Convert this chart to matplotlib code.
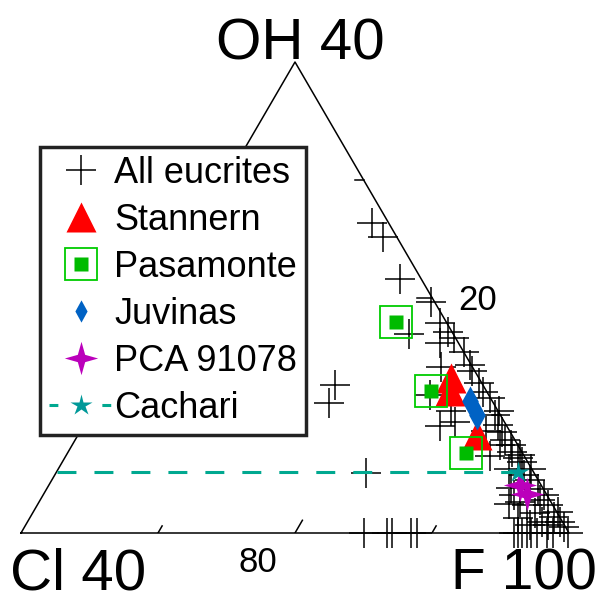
import numpy as np
import matplotlib.pyplot as plt
from matplotlib.lines import Line2D

plt.rcParams['font.family'] = ['Liberation Sans', 'DejaVu Sans']

# compositions on the scaled triangle (F 60-100, OH 0-40, Cl 0-40), Cl = 100 - F - OH
euc_F = [72.5, 73.9, 76.9, 80.1, 79.9, 81.7, 82.6, 83.3, 82.5, 76.6, 77.0, 82.6,
         83.6, 84.0, 86.0, 85.6, 87.1, 87.7, 86.0, 86.2, 87.0, 89.6, 90.2, 90.8,
         91.4, 89.7, 92.0, 92.4, 93.1, 93.6, 91.0, 94.9, 95.9, 96.6, 95.1, 95.7,
         97.3, 96.7, 98.2, 95.6, 97.6, 98.9, 99.4, 85.0, 86.7, 87.1, 88.5, 88.9,
         96.0, 96.3, 96.6, 96.9, 97.2, 97.7, 98.4, 98.8, 99.9, 94.5, 94.3, 93.9,
         94.4, 84.6, 96.5, 98.3, 98.1, 96.8, 94.4, 92.9, 93.1, 91.2, 89.6, 88.5]
euc_OH = [26.3, 25.1, 21.6, 19.6, 16.9, 17.8, 17.1, 16.6, 16.1, 12.6, 11.0, 5.1,
          14.1, 11.7, 9.1, 14.3, 12.7, 12.0, 13.8, 10.4, 9.4, 10.0, 9.2, 8.6,
          7.9, 10.4, 7.5, 6.9, 6.4, 6.0, 6.5, 4.5, 3.7, 3.2, 2.6, 2.4,
          2.4, 1.7, 1.4, 1.3, 0.9, 0.9, 0.5, 0.0, 0.0, 0.0, 0.0, 0.0,
          0.0, 0.0, 0.0, 0.0, 0.0, 0.0, 0.0, 0.0, 0.0, 5.4, 4.9, 3.8,
          2.5, 15.4, 2.8, 1.8, 0.7, 0.7, 3.2, 5.4, 6.6, 7.5, 8.7, 11.5]

stannern_F = [84.8, 85.3, 89.1]
stannern_OH = [13.2, 12.1, 8.3]
pasamonte_F = [78.4, 83.9, 89.1]
pasamonte_OH = [17.9, 12.1, 6.8]
juvinas_F = [87.2, 88.3]
juvinas_OH = [11.2, 10.0]
pca_F = [94.4, 95.3]
pca_OH = [4.1, 3.3]
cachari_F = 93.7
cachari_OH = 5.2

tick_vals = [10, 20, 30]


def tern(F, OH):
    F = np.asarray(F, float)
    OH = np.asarray(OH, float)
    a = OH / 40.0
    c = (F - 60.0) / 40.0
    return c + a / 2, a * np.sqrt(3) / 2


h = np.sqrt(3) / 2
fig = plt.figure(figsize=(6.05, 6.0), dpi=100)
ax = fig.add_axes([21 / 605, 67 / 600, 548 / 605, 471 / 600])
ax.set_xlim(0, 1)
ax.set_ylim(0, h)
ax.axis('off')

# triangle
ax.plot([0, 1, 0.5, 0], [0, 0, h, 0], color='k', lw=1.1, clip_on=False)

# ticks
for v in tick_vals:
    L = 0.027 if v == 20 else 0.015
    # bottom edge (F)
    x0, y0 = tern(100 - v, 0)
    ax.plot([x0, x0 + 0.5 * L], [y0, y0 + h * L], color='k', lw=1.1)
    # right edge (OH)
    x0, y0 = tern(100 - v, v)
    ax.plot([x0, x0 - L], [y0, y0], color='k', lw=1.1)
    # left edge (Cl)
    x0, y0 = tern(60, 40 - v)
    ax.plot([x0, x0 + 0.5 * L], [y0, y0 - h * L], color='k', lw=1.1)

x80, y80 = tern(80, 0)
ax.text(x80 - 0.067, y80 - 0.072, '80', fontsize=25, ha='center', va='baseline')
x20, y20 = tern(80, 20)
ax.text(x20 + 0.084, y20 - 0.023, '20', fontsize=25, ha='center', va='baseline')

ax.text(0.509, 0.870, 'OH 40', fontsize=42, ha='center', va='baseline')
ax.text(0.104, -0.103, 'Cl 40', fontsize=42, ha='center', va='baseline')
ax.text(0.918, -0.103, 'F 100', fontsize=41, ha='center', va='baseline')

ex, ey = tern(euc_F, euc_OH)
h_euc, = ax.plot(ex, ey, '+', color='k', ms=21, mew=1.1, ls='none', clip_on=False)

# Cachari line at constant OH from the Cl-OH edge
cx, cy = tern([60, cachari_F], [cachari_OH, cachari_OH])
cach_line, = ax.plot(cx, cy, color='#00A890', lw=2.2, ls='--')
cach_line.set_dashes([6.2, 5.9])

sx, sy = tern(stannern_F, stannern_OH)
h_st, = ax.plot(sx, sy, '^', color='red', ms=21, mec='none', ls='none')
px, py = tern(pasamonte_F, pasamonte_OH)
h_po, = ax.plot(px, py, 's', mfc='none', mec='#00CC00', ms=23, mew=1.3, ls='none')
h_pf, = ax.plot(px, py, 's', color='#00BB00', ms=9.5, mec='none', ls='none')

thin_diamond = [(0, 1), (0.55, 0), (0, -1), (-0.55, 0), (0, 1)]
jx, jy = tern(juvinas_F, juvinas_OH)
ax.plot(jx, jy, marker=thin_diamond, color='#0062C4', ms=21.6, mec='none', ls='none')
h_ju = Line2D([], [], marker=thin_diamond, color='#0062C4', ms=16, mec='none', ls='none')

star4 = [(0, 1), (0.22, 0.22), (1, 0), (0.22, -0.22), (0, -1),
         (-0.22, -0.22), (-1, 0), (-0.22, 0.22), (0, 1)]
qx, qy = tern(pca_F, pca_OH)
h_pca, = ax.plot(qx, qy, marker=star4, color='#BB00BB', ms=24, mec='none', ls='none')

kx, ky = tern(cachari_F, cachari_OH)
ax.plot(kx, ky, '*', color='#009999', ms=16, mec='none', ls='none', clip_on=False)
h_ca = Line2D([], [], color='#00A890', lw=2.2, ls=(0, (2.9, 14.4)), marker='*',
              mfc='#009999', mec='none', ms=16)

handles = [h_euc, h_st, (h_po, h_pf), h_ju, h_pca, h_ca]
labels = ['All eucrites', 'Stannern', 'Pasamonte', 'Juvinas', 'PCA 91078', 'Cachari']
leg = fig.legend(handles, labels, loc='upper left',
                 bbox_to_anchor=(40 / 605, 1 - 147 / 600), bbox_transform=fig.transFigure,
                 fontsize=26, frameon=True, fancybox=False, edgecolor='#222222',
                 framealpha=1, borderpad=0.25, labelspacing=0.33, handlelength=1.75,
                 handletextpad=0.05, borderaxespad=0, numpoints=1)
leg.get_frame().set_linewidth(2.5)

fig.savefig('out.png', dpi=100)
